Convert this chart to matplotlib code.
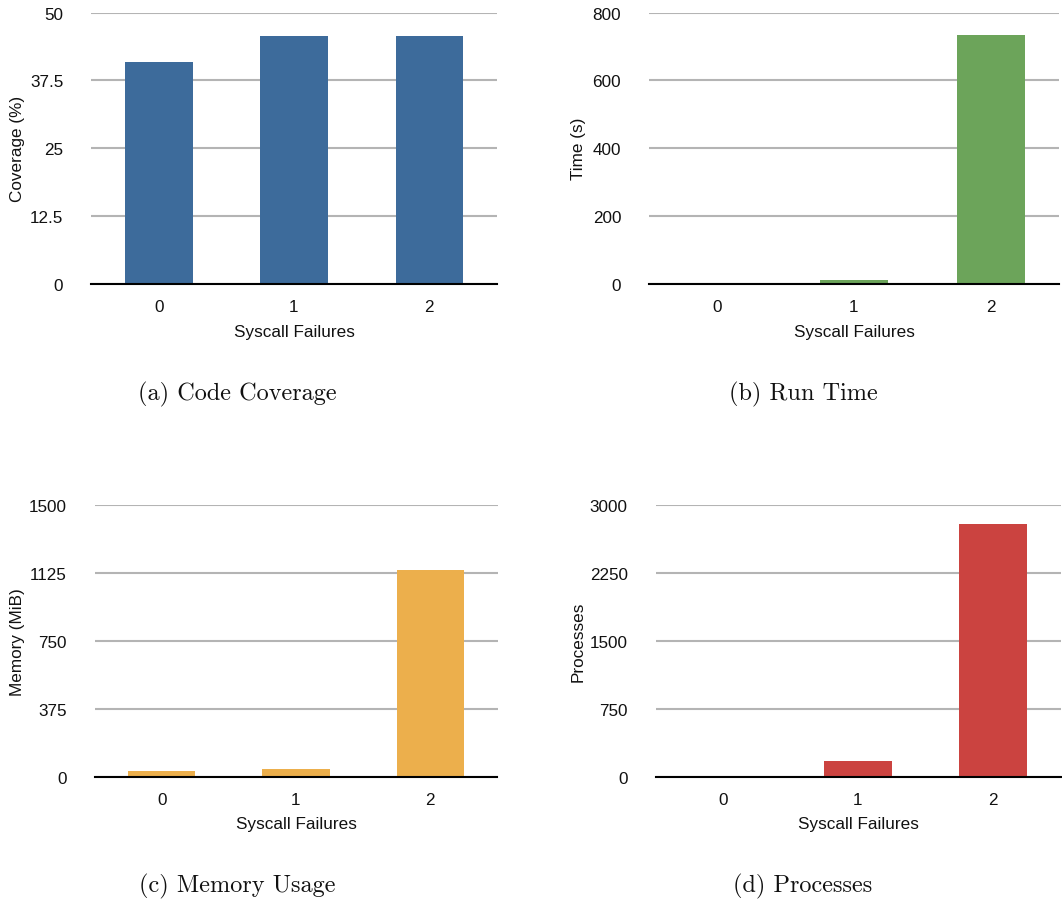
import matplotlib
matplotlib.use("Agg")
import matplotlib.pyplot as plt

# Data
failures = ["0", "1", "2"]
coverage = [40.9, 45.7, 45.7]
run_time = [0.5, 12, 733]
memory = [28, 39, 1140]
processes = [1, 176, 2790]

cov_ticks = [0, 12.5, 25, 37.5, 50]
cov_tick_labels = ["0", "12.5", "25", "37.5", "50"]
time_ticks = [0, 200, 400, 600, 800]
mem_ticks = [0, 375, 750, 1125, 1500]
proc_ticks = [0, 750, 1500, 2250, 3000]

W, H = 1062, 904
fig = plt.figure(figsize=(W / 100, H / 100), dpi=100)
plt.rcParams["font.family"] = ["Liberation Sans", "DejaVu Sans"]


def px_axes(left, right, top, bottom):
    return fig.add_axes([left / W, 1 - bottom / H, (right - left) / W, (bottom - top) / H])


panels = [
    # left, right, top, bottom, values, ticks, ylabel, color, caption, caption x, caption y, ylabel x
    (91, 497, 13.5, 285, coverage, cov_ticks, "Coverage (%)", "#3D6B9B", "(a) Code Coverage", 237, 394, 25),
    (649, 1059, 13.5, 285, run_time, time_ticks, "Time (s)", "#6CA45A", "(b) Run Time", 803, 394, 586),
    (94.5, 497.5, 506, 777.5, memory, mem_ticks, "Memory (MiB)", "#ECAF4C", "(c) Memory Usage", 237, 886, 25),
    (655.5, 1060.5, 506, 777.5, processes, proc_ticks, "Processes", "#CB4340", "(d) Processes", 803, 886, 586),
]

XLABEL_GAP = 40  # pixels from the baseline to the top of the x-axis label

for (left, right, top, bottom, vals, ticks, ylabel, color, caption, cx, cy, ylx) in panels:
    ax = px_axes(left, right, top, bottom)
    x = list(range(len(failures)))
    ax.bar(x, vals, width=0.5, color=color, zorder=3)
    ax.set_xlim(-0.5, 2.5)
    ax.set_ylim(ticks[0], ticks[-1])
    ax.set_yticks(ticks)
    if ticks is cov_ticks:
        ax.set_yticklabels(cov_tick_labels)
    ax.set_xticks(x)
    ax.set_xticklabels(failures)
    ax.tick_params(axis="both", length=0, labelsize=12.3, colors="#111111")
    ax.tick_params(axis="y", pad=20)
    ax.tick_params(axis="x", pad=11)
    ax.yaxis.grid(True, color="#B4B4B4", linewidth=1.5, zorder=0)
    ax.set_axisbelow(True)
    for s in ("top", "right", "left"):
        ax.spines[s].set_visible(False)
    ax.spines["bottom"].set_color("black")
    ax.spines["bottom"].set_linewidth(1.5)
    ax.spines["bottom"].set_zorder(4)
    ax.set_xlabel("Syscall Failures", fontsize=12.3, color="#111111")
    ax.set_ylabel(ylabel, fontsize=12.3, color="#111111")
    h = bottom - top
    w = right - left
    ax.xaxis.set_label_coords(0.5, -XLABEL_GAP / h)
    ax.yaxis.set_label_coords((ylx - left) / w, 0.5)
    fig.text(cx / W, 1 - cy / H, caption, fontfamily="cmr10", fontsize=17.5,
             ha="center", va="center", color="#111111")

fig.savefig("out.png", dpi=100)
